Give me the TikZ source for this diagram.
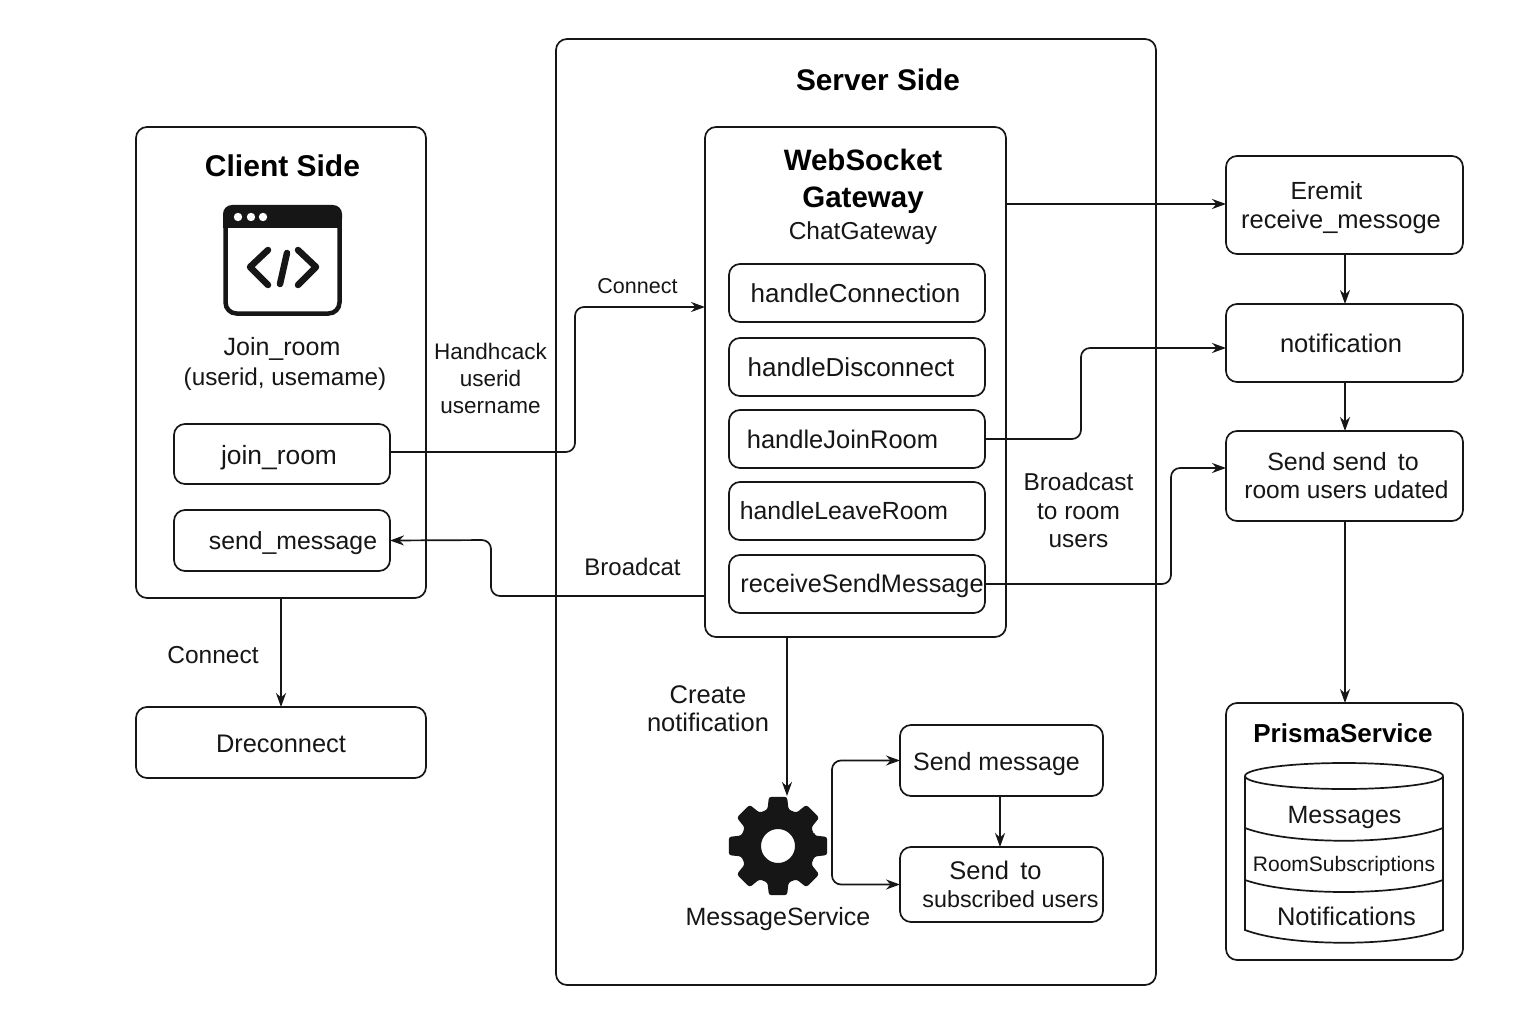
\documentclass[tikz,border=0pt]{standalone}
\usepackage{fontspec}
\setmainfont{Liberation Sans}
\usetikzlibrary{arrows.meta}
\newcommand{\fs}[1]{\fontsize{#1}{30}\selectfont}
\newcommand{\fsl}[2]{\fontsize{#1}{#2}\selectfont}
\newcommand{\dn}[2]{\raisebox{0pt}[\dimexpr\height+#1pt+#1pt\relax][\depth]{#2}}
\newcommand{\bx}[7][]{%
  \pgfmathsetmacro{\bxw}{#5-#3}\pgfmathsetmacro{\bxh}{#6-#4}%
  \pgfmathsetmacro{\bxx}{(#3+#5)/2}\pgfmathsetmacro{\bxy}{(#4+#6)/2}%
  \node[boxn,minimum width=\bxw pt,minimum height=\bxh pt,#1] (#2) at (\bxx,\bxy) {#7};}
\definecolor{ink}{HTML}{161616}
\tikzset{
  x=1pt,y=-1pt,
  boxn/.style={draw=ink,line width=1.7pt,rounded corners=11pt,inner sep=0pt,outer sep=0pt,align=center,text=ink,font=\fsl{25}{29}},
  lbl/.style={inner sep=0pt,align=center,text=ink,font=\fsl{23.5}{28}},
  ttl/.style={inner sep=0pt,align=center,text=black,font=\bfseries\fsl{29.5}{37}},
  conn/.style={draw=ink,line width=1.7pt,rounded corners=9pt,-{Stealth[length=14pt,width=10pt]}},
  connb/.style={conn,{Stealth[length=14pt,width=10pt]}-{Stealth[length=14pt,width=10pt]}},
}
\begin{document}
\begin{tikzpicture}
\useasboundingbox (0,0) rectangle (1536,1024);
\fill[white] (0,0) rectangle (1536,1024);
% containers
\bx{server}{556}{39}{1156}{985}{}
\bx{client}{136}{127}{426}{598}{}
\bx{gw}{705}{127}{1006}{637}{}
\node[ttl,font=\bfseries\fs{29.8}] (servertitle) at (878,80) {Server Side};
\node[ttl,font=\bfseries\fs{30}] (clienttitle) at (282.5,165.5) {Client Side};
\node[ttl] (gwtitle) at (863,181) {WebSocket\\Gateway};
\node[lbl,font=\fs{24.5}] (gwsub) at (863,233) {ChatGateway};
% client
\bx{joinbox}{174}{424}{390}{484}{\hspace*{-6pt}\dn{4}{\fs{26.4}join\_room}}
\bx{sendbox}{174}{510}{390}{571}{\hspace*{22pt}\dn{3}{\fs{24.8}send\_message}}
\bx{drec}{136}{707}{426}{778}{\dn{1}{\fs{25.4}Dreconnect}}
\node[lbl,font=\fs{25}] (joinlbl) at (282,349) {Join\_room};
\node[lbl,font=\fs{24.3}] (joinargs) at (285,379) {(userid, usemame)};
% window icon
\fill[ink,rounded corners=9pt] (223,205) -- (342,205) -- (342,228) -- (223,228) -- cycle;
\fill[ink] (223,218) rectangle (342,228);
\draw[ink,line width=4.5pt,rounded corners=11pt] (225.5,207.5) rectangle (339.5,313.5);
\fill[white] (238,217) circle (4.2) (251,217) circle (4.2) (263,217) circle (4.2);
\draw[ink,line width=6.5pt,line cap=round,line join=round] (268,250) -- (250,267) -- (268,285);
\draw[ink,line width=6.5pt,line cap=round,line join=round] (298,250) -- (316,267) -- (298,285);
\draw[ink,line width=6.5pt,line cap=round] (287,253) -- (280,284);
% handlers
\bx{hconn}{729}{264}{985}{322}{\hspace*{-3pt}\fs{26}handleConnection}
\bx{hdisc}{729}{338}{985}{396}{\hspace*{-12pt}\fs{26}handleDisconnect}
\bx{hjoin}{729}{410}{985}{468}{\hspace*{-29pt}\fs{25.5}handleJoinRoom}
\bx{hleave}{729}{482}{985}{540}{\hspace*{-26pt}\fs{24.8}handleLeaveRoom}
\bx{hrecv}{729}{555}{985}{613}{\hspace*{10pt}\dn{2}{\fs{25.3}receiveSendMessage}}
% right
\bx{eremit}{1226}{156}{1463}{254}{\hspace*{-36pt}\rule{0pt}{23pt}\fsl{24.8}{28}Eremit\\\hspace*{-7pt}\fs{25.5}receive\_messoge}
\bx{notif}{1226}{304}{1463}{382}{\hspace*{-7pt}\fs{25.5}notification}
\bx[font=\fsl{25}{28}]{sendsend}{1226}{431}{1463}{521}{\hspace*{-3pt}Send send\, to\\\hspace*{4pt}\fs{24.5}room users udated}
\bx{prisma}{1226}{703}{1463}{960}{}
\node[ttl,font=\bfseries\fs{26}] (prismatitle) at (1343,733) {PrismaService};
% message service
\bx{smsg}{900}{725}{1103}{796}{\hspace*{-10pt}\dn{4}{\fs{25}Send message}}
\bx[font=\fsl{25.5}{28}]{sto}{900}{847}{1103}{922}{\hspace*{-12pt}Send\, to\\\hspace*{18pt}\fs{23.3}subscribed users}
% gear
\begin{scope}[shift={(778,846)}]
\fill[ink,even odd rule,rounded corners=2.5pt] (-16:38)
  \foreach \a in {0,45,...,315}{ -- (\a-16:38) -- (\a-10.5:50) -- (\a+10.5:50) -- (\a+16:38)} -- cycle
  (0,0) circle (17);
\end{scope}
\node[minimum size=100pt,inner sep=0pt,outer sep=0pt] (gear) at (778,846) {};
\node[lbl,font=\fs{25}] (msvc) at (778,919) {MessageService};
% cylinder
\draw[ink,line width=1.7pt] (1344,776) ellipse (99 and 13);
\draw[ink,line width=1.7pt] (1245,776) -- (1245,930) .. controls (1290,947) and (1398,947) .. (1443,930) -- (1443,776);
\draw[ink,line width=1.7pt] (1245,828) .. controls (1290,845) and (1398,845) .. (1443,828);
\draw[ink,line width=1.7pt] (1245,880) .. controls (1290,896) and (1398,896) .. (1443,880);
\node[lbl,font=\fs{25}] (dbm) at (1344.5,817) {Messages};
\node[lbl,font=\fs{21}] (dbr) at (1344,866) {RoomSubscriptions};
\node[lbl,font=\fs{25.5}] (dbn) at (1346.5,916) {Notifications};
% labels
\node[lbl,font=\fs{21.5}] (lconn) at (637.5,286) {Connect};
\node[lbl,font=\fsl{22.5}{27}] (lhand) at (490.5,378) {Handhcack\\userid\\username};
\node[lbl,font=\fs{24}] (lbroad) at (632.5,567) {Broadcat};
\node[lbl,font=\fs{24.5}] (lconn2) at (213,655) {Connect};
\node[lbl,font=\fsl{25.5}{28}] (lcreate) at (708,709) {Create\\notification};
\node[lbl,font=\fsl{24.4}{28.5}] (lbr) at (1078.5,510.5) {Broadcast\\to room\\users};
% connectors
\draw[conn] (joinbox.east |- 575,452) -- (575,452) -- (575,307) -- (gw.west |- 575,307);
\draw[conn] (gw.east |- 1006,204) -- (eremit.west |- 1006,204);
\draw[conn] (eremit.south -| 1345,0) -- (notif.north -| 1345,0);
\draw[conn] (notif.south -| 1345,0) -- (sendsend.north -| 1345,0);
\draw[conn] (sendsend.south -| 1345,0) -- (prisma.north -| 1345,0);
\draw[conn] (hjoin.east) -- (1081,439) -- (1081,348) -- (notif.west |- 1081,348);
\draw[conn] (hrecv.east) -- (1171,584) -- (1171,468) -- (sendsend.west |- 1171,468);
\draw[conn] (gw.west |- 491,596) -- (491,596) -- (491,540) -- (sendbox.east);
\draw[conn] (client.south) -- (drec.north);
\draw[conn] (gw.south -| 787,0) -- (gear.north -| 787,0);
\draw[connb] (smsg.west) -- (832,760.5) -- (832,884.5) -- (sto.west);
\draw[conn] (smsg.south -| 1000,0) -- (sto.north -| 1000,0);
\end{tikzpicture}
\end{document}
